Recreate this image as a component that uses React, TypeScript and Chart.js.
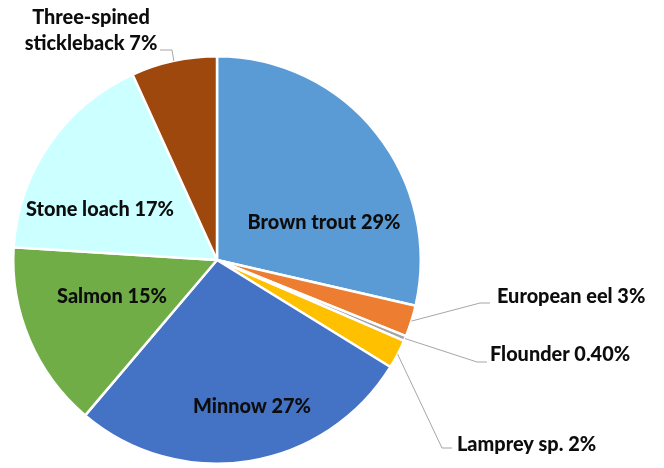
import React, { useEffect, useRef } from "react";
import { Chart, registerables } from "chart.js";

Chart.register(...registerables);

const categories = [
  "Brown trout",
  "European eel",
  "Flounder",
  "Lamprey sp.",
  "Minnow",
  "Salmon",
  "Stone loach",
  "Three-spined stickleback",
];
const values = [28.6, 2.5, 0.4, 2.3, 27.4, 14.8, 17.2, 6.8];
const percentLabels = ["29%", "3%", "0.40%", "2%", "27%", "15%", "17%", "7%"];
const colors = [
  "#5B9BD5",
  "#ED7D31",
  "#A5A5A5",
  "#FFC000",
  "#4472C4",
  "#70AD47",
  "#CCFFFF",
  "#9E480E",
];

type Lay = { lines: string[]; x: number; y: number; align: CanvasTextAlign; leader?: [number, number, number, number] };
const layout: Lay[] = [
  { lines: ["Brown trout 29%"], x: 324, y: 223, align: "center" },
  { lines: ["European eel 3%"], x: 497, y: 297, align: "left", leader: [480, 303, 490, 303] },
  { lines: ["Flounder 0.40%"], x: 490, y: 355, align: "left", leader: [477, 362, 487, 362] },
  { lines: ["Lamprey sp. 2%"], x: 457, y: 445, align: "left", leader: [442, 448, 452, 448] },
  { lines: ["Minnow 27%"], x: 252, y: 407, align: "center" },
  { lines: ["Salmon 15%"], x: 112, y: 297, align: "center" },
  { lines: ["Stone loach 17%"], x: 100, y: 210, align: "center" },
  { lines: ["Three-spined", "stickleback 7%"], x: 91, y: 18, align: "center", leader: [172, 50, 160, 50] },
];

const labelPlugin = {
  id: "excelLabels",
  afterDatasetsDraw(chart: any) {
    const ctx: CanvasRenderingContext2D = chart.ctx;
    const meta = chart.getDatasetMeta(0);
    ctx.save();
    ctx.font = "900 20px Lato";
    const w = ctx.measureText("Brown trout 29%").width;
    const size = (20 * 153) / w;
    ctx.font = `900 ${size.toFixed(2)}px Lato`;
    ctx.fillStyle = "#0D0D0D";
    ctx.textBaseline = "middle";
    layout.forEach((l, i) => {
      const arc = meta.data[i];
      if (l.leader) {
        const p: any = arc.getProps(["x", "y", "startAngle", "endAngle", "outerRadius"], true);
        const mid = (p.startAngle + p.endAngle) / 2;
        const sx = p.x + Math.cos(mid) * p.outerRadius;
        const sy = p.y + Math.sin(mid) * p.outerRadius;
        ctx.strokeStyle = "#A6A6A6";
        ctx.lineWidth = 1;
        ctx.beginPath();
        ctx.moveTo(sx, sy);
        ctx.lineTo(l.leader[0], l.leader[1]);
        ctx.lineTo(l.leader[2], l.leader[3]);
        ctx.stroke();
      }
      ctx.textAlign = l.align;
      l.lines.forEach((line, j) => {
        ctx.fillText(line, l.x, l.y + j * 26);
      });
    });
    ctx.restore();
  },
};

export default function App() {
  const ref = useRef<HTMLCanvasElement | null>(null);
  useEffect(() => {
    document.body.style.margin = "0";
    const chart = new Chart(ref.current as HTMLCanvasElement, {
      type: "pie",
      data: {
        labels: categories,
        datasets: [
          {
            data: values,
            backgroundColor: colors,
            borderColor: "#FFFFFF",
            borderWidth: 2.5,
          },
        ],
      },
      options: {
        responsive: false,
        animation: false,
        layout: { padding: { left: 12, right: 242, top: 55, bottom: 3 } },
        plugins: { legend: { display: false }, tooltip: { enabled: false } },
      },
      plugins: [labelPlugin],
    });
    return () => chart.destroy();
  }, []);
  return (
    <div style={{ width: 664, height: 468, background: "#fff" }}>
      <canvas ref={ref} width={664} height={468} />
    </div>
  );
}
